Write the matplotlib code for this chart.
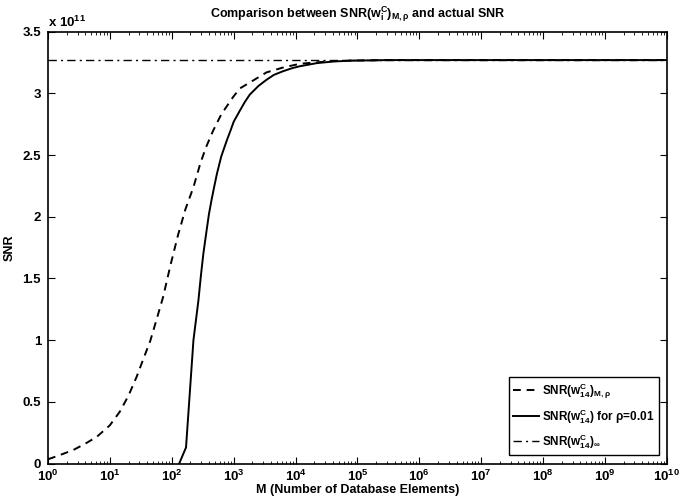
import numpy as np
import matplotlib
matplotlib.use('Agg')
import matplotlib.pyplot as plt
from matplotlib.ticker import LogLocator, NullFormatter

plt.rcParams['font.family'] = ['Liberation Sans', 'DejaVu Sans']
plt.rcParams['font.weight'] = 'bold'
plt.rcParams['mathtext.fontset'] = 'custom'
plt.rcParams['mathtext.rm'] = 'Liberation Sans:bold'
plt.rcParams['mathtext.it'] = 'Liberation Sans:bold'
plt.rcParams['mathtext.bf'] = 'Liberation Sans:bold'
plt.rcParams['mathtext.default'] = 'regular'

# values, SNR in units of 1e11, M as log10
log_m_approx = [0.0, 0.2, 0.41, 0.6, 0.79, 1.0, 1.16, 1.3, 1.43, 1.55, 1.65, 1.75,
                1.86, 1.98, 2.10, 2.22, 2.35, 2.46, 2.55, 2.67, 2.80, 2.99, 3.10,
                3.3, 3.53, 3.8, 4.07, 4.3, 4.61, 5.0, 5.5, 6.0, 8.0, 10.0]
snr_approx = [0.034, 0.07, 0.11, 0.16, 0.217, 0.31, 0.42, 0.55, 0.70, 0.86, 0.99, 1.16,
              1.35, 1.61, 1.85, 2.06, 2.24, 2.43, 2.56, 2.70, 2.83, 2.97, 3.04,
              3.10, 3.17, 3.21, 3.24, 3.25, 3.262, 3.267, 3.27, 3.27, 3.27, 3.27]

log_m_actual = [2.12, 2.23, 2.35, 2.43, 2.47, 2.51, 2.56, 2.60, 2.64, 2.68, 2.73,
                2.80, 2.89, 2.95, 3.0, 3.10, 3.18, 3.26, 3.4, 3.53, 3.65, 3.80,
                3.95, 4.07, 4.34, 4.6, 4.88, 5.5, 6.0, 8.0, 10.0]
snr_actual = [0.0, 0.13, 1.0, 1.32, 1.52, 1.70, 1.88, 2.02, 2.13, 2.23, 2.35,
              2.49, 2.62, 2.70, 2.77, 2.86, 2.93, 2.99, 3.06, 3.11, 3.15, 3.18,
              3.205, 3.22, 3.245, 3.258, 3.265, 3.27, 3.27, 3.27, 3.27]

log_m_inf = [0.0, 10.0]
snr_inf = [3.27, 3.27]

fig = plt.figure(figsize=(6.99, 5.0), dpi=100)
ax = fig.add_axes([0.0687, 0.073, 0.8853, 0.8636])

ax.plot(10 ** np.array(log_m_approx), snr_approx, color='black', linestyle='--',
        linewidth=1.4, dashes=(4, 3), label=r'SNR(w$^C_{14}$)$_{M,\rho}$')
ax.plot(10 ** np.array(log_m_actual), snr_actual, color='black', linestyle='-',
        linewidth=1.4, label=r'SNR(w$^C_{14}$) for $\rho$=0.01')
ax.plot(10 ** np.array(log_m_inf), snr_inf, color='black', linestyle='-.',
        linewidth=1.0, dashes=(6, 3, 1.5, 3), label=r'SNR(w$^C_{14}$)$_\infty$')

ax.set_xscale('log')
ax.set_xlim(1, 1e10)
ax.set_ylim(0, 3.5)
ax.set_xticks([10.0 ** k for k in range(11)])
ax.xaxis.set_minor_locator(LogLocator(base=10, subs=np.arange(2, 10), numticks=100))
ax.xaxis.set_minor_formatter(NullFormatter())
ax.set_yticks([0, 0.5, 1, 1.5, 2, 2.5, 3, 3.5])
ax.set_yticklabels(['0', '0.5', '1', '1.5', '2', '2.5', '3', '3.5'])

ax.tick_params(which='both', direction='in', top=True, right=True, labelsize=9.5)
ax.tick_params(axis='x', which='major', pad=4)
ax.tick_params(axis='y', which='major', pad=5)
ax.tick_params(which='major', length=5, width=0.8)
ax.tick_params(which='minor', length=2.5, width=0.6)
for sp in ax.spines.values():
    sp.set_linewidth(1.2)

ax.text(0.0, 1.005, r'x 10$^{11}$', transform=ax.transAxes, fontsize=9.5,
        ha='left', va='bottom')

ax.set_title(r'Comparison between SNR(w$_i^C$)$_{M,\rho}$ and actual SNR',
             fontsize=9, fontweight='bold', pad=10)
ax.set_xlabel('M (Number of Database Elements)', fontsize=9, fontweight='bold', labelpad=0)
ax.set_ylabel('SNR', fontsize=9, fontweight='bold', labelpad=5)

leg = ax.legend(loc='lower right', fontsize=8.5, fancybox=False, framealpha=1,
                edgecolor='black', borderaxespad=0.7, handlelength=2.2,
                handletextpad=0.3, labelspacing=0.55, borderpad=0.35)
leg.get_frame().set_linewidth(1.0)

fig.savefig('out.png', dpi=100)
